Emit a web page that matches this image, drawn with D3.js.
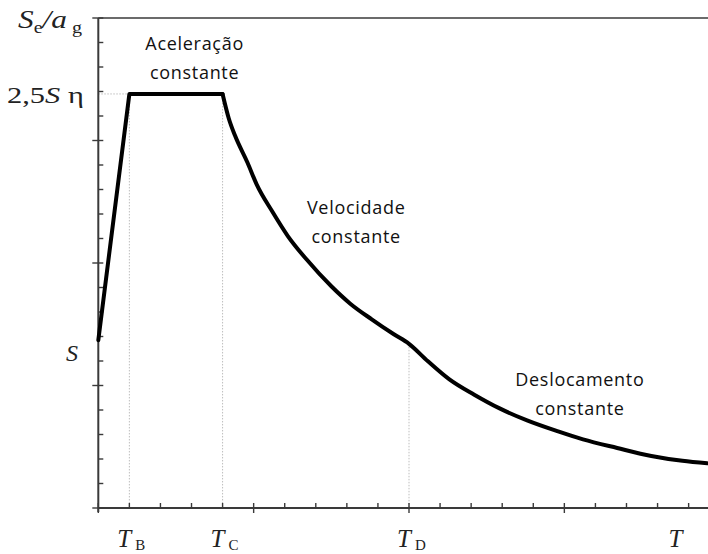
<!DOCTYPE html>
<html>
<head>
<meta charset="utf-8">
<script src="https://cdn.jsdelivr.net/npm/d3@7"></script>
<style>
  body { margin: 0; background: #fff; }
  svg { display: block; }
  .serif { font-family: "Liberation Serif", "DejaVu Serif", serif; fill: #222; }
  .note { font-family: "Open Sans", "Liberation Sans", sans-serif; font-size: 18px; fill: #111; text-anchor: middle; letter-spacing: 0.7px; }
</style>
</head>
<body>
<svg width="708" height="554"></svg>
<script>
// elastic response spectrum (T, Se/ag)
var periods  = [0, 0.1, 0.4, 0.42, 0.44, 0.48, 0.51, 0.56, 0.61, 0.67, 0.75, 0.81, 0.88, 0.95, 1.0,
                1.06, 1.13, 1.21, 1.29, 1.38, 1.48, 1.56, 1.67, 1.78, 1.88, 1.96];
var spectrum = [1.37, 3.38, 3.38, 3.18, 3.04, 2.82, 2.64, 2.42, 2.22, 2.03, 1.81, 1.67, 1.54, 1.42, 1.34,
                1.20, 1.05, 0.925, 0.815, 0.715, 0.625, 0.56, 0.49, 0.425, 0.385, 0.365];

// corner periods and their names
var cornerT = [0.1, 0.4, 1.0];
var cornerNames = ["B", "C", "D"];
var plateau = 3.38;
var soil = 1.37;

// region notes
var notes = [
  { lines: ["Aceleração", "constante"], t: 0.31, v: 3.74 },
  { lines: ["Velocidade", "constante"], t: 0.83, v: 2.4 },
  { lines: ["Deslocamento", "constante"], t: 1.55, v: 1.0 }
];

var svg = d3.select("svg"),
    width = +svg.attr("width"),
    height = +svg.attr("height");

var x = d3.scaleLinear()
  .domain([0, 2])
  .range([98.3, 719.7]);

var y = d3.scaleLinear()
  .domain([0, 4])
  .range([508, 18]);

var minorX = d3.range(0, 20).map(d => d / 10),
    minorY = d3.range(0, 21).map(d => d / 5);

var pts = periods.map((t, i) => [t, spectrum[i]]);
var iC = periods.indexOf(cornerT[1]);

// dotted guides
var guides = svg.append("g")
  .attr("stroke", "#bdbdbd")
  .attr("stroke-width", 1)
  .attr("stroke-dasharray", "1.5,1.5");

guides.append("line")
  .attr("x1", x(0)).attr("x2", x(cornerT[0]))
  .attr("y1", y(plateau)).attr("y2", y(plateau));

guides.selectAll(".vg")
  .data(cornerT)
  .enter().append("line")
  .attr("x1", d => x(d)).attr("x2", d => x(d))
  .attr("y1", (d, i) => i < 2 ? y(plateau) : y(spectrum[periods.indexOf(d)]))
  .attr("y2", y(0));

// axes + frame
var ax = svg.append("g")
  .attr("stroke", "#3a3a3a")
  .attr("stroke-width", 1.4);

ax.append("line").attr("x1", x(0)).attr("x2", width).attr("y1", y(0)).attr("y2", y(0)).attr("stroke-width", 2);
ax.append("line").attr("x1", x(0)).attr("x2", x(0)).attr("y1", y(0) + 4).attr("y2", y(4)).attr("stroke-width", 2);
ax.append("line").attr("x1", x(0)).attr("x2", width).attr("y1", y(4)).attr("y2", y(4));

ax.selectAll(".tx")
  .data(minorX)
  .enter().append("line")
  .attr("x1", d => x(d)).attr("x2", d => x(d))
  .attr("y1", d => Math.round(d * 10) % 5 === 0 ? y(0) + 5 : y(0))
  .attr("y2", y(0) - 5);

ax.selectAll(".ty")
  .data(minorY)
  .enter().append("line")
  .attr("y1", d => y(d)).attr("y2", d => y(d))
  .attr("x1", d => Math.round(d * 5) % 5 === 0 ? x(0) - 6 : x(0))
  .attr("x2", x(0) + 5);

// spectrum curve: straight rise + plateau, smooth decay after TC
var straight = d3.line().x(d => x(d[0])).y(d => y(d[1]));
var smooth = d3.line().x(d => x(d[0])).y(d => y(d[1])).curve(d3.curveMonotoneX);

var curve = svg.append("g")
  .attr("fill", "none")
  .attr("stroke", "#000")
  .attr("stroke-width", 4)
  .attr("stroke-linejoin", "round")
  .attr("stroke-linecap", "round");

curve.append("path").attr("d", straight(pts.slice(0, iC + 1)));
curve.append("path").attr("d", smooth(pts.slice(iC)));

// y labels
var yl = svg.append("text").attr("class", "serif").attr("x", 18).attr("y", 28)
  .style("font-size", "25px")
  .attr("textLength", 64).attr("lengthAdjust", "spacingAndGlyphs");
yl.append("tspan").style("font-style", "italic").text("S");
yl.append("tspan").attr("dy", 5).style("font-size", "16px").text("e");
yl.append("tspan").attr("dy", -5).style("font-style", "italic").text("/a");
yl.append("tspan").attr("dx", 4).attr("dy", 5).style("font-size", "16px").text("g");

var pl = svg.append("text").attr("class", "serif").attr("x", 7).attr("y", y(plateau) + 9)
  .style("font-size", "23px")
  .attr("textLength", 77).attr("lengthAdjust", "spacingAndGlyphs");
pl.append("tspan").text("2,5");
pl.append("tspan").style("font-style", "italic").text("S");
pl.append("tspan").attr("dx", 6).text("η");

svg.append("text").attr("class", "serif")
  .attr("x", 66).attr("y", y(soil) + 21)
  .style("font-size", "24px").style("font-style", "italic")
  .text("S");

// x labels
var xl = svg.selectAll(".xl")
  .data(cornerT)
  .enter().append("text")
  .attr("class", "serif")
  .attr("x", d => x(d) - 12)
  .attr("y", 547)
  .style("font-size", "25px");
xl.append("tspan").style("font-style", "italic").text("T");
xl.append("tspan").attr("dx", 4).attr("dy", 3).style("font-size", "15px").text((d, i) => cornerNames[i]);

svg.append("text").attr("class", "serif")
  .attr("x", x(1.835)).attr("y", 547)
  .style("font-size", "25px").style("font-style", "italic")
  .text("T");

// region notes
var nt = svg.selectAll(".note")
  .data(notes)
  .enter().append("text")
  .attr("class", "note")
  .attr("transform", d => "translate(" + x(d.t) + "," + y(d.v) + ")");
nt.selectAll("tspan")
  .data(d => d.lines)
  .enter().append("tspan")
  .attr("x", 0)
  .attr("dy", (d, i) => i === 0 ? 0 : 29)
  .text(d => d);
</script>
</body>
</html>
